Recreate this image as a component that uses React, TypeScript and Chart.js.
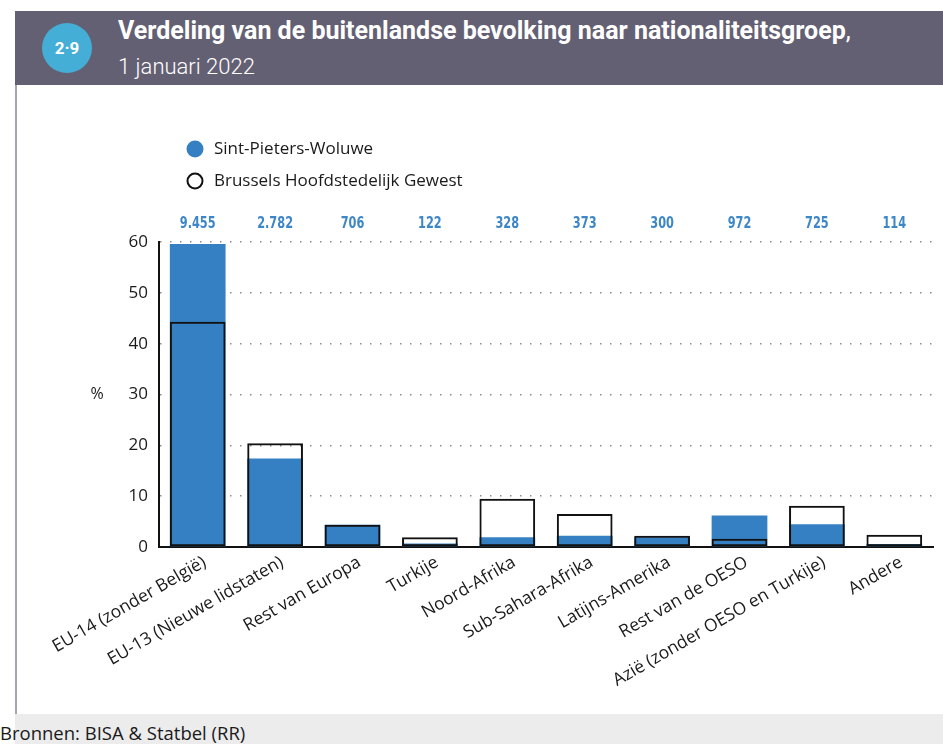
import React, { useEffect, useRef } from "react";
import Chart from "chart.js/auto";

const categories = [
  "EU-14 (zonder België)",
  "EU-13 (Nieuwe lidstaten)",
  "Rest van Europa",
  "Turkije",
  "Noord-Afrika",
  "Sub-Sahara-Afrika",
  "Latijns-Amerika",
  "Rest van de OESO",
  "Azië (zonder OESO en Turkije)",
  "Andere",
];
const counts = ["9.455", "2.782", "706", "122", "328", "373", "300", "972", "725", "114"];
const sintPietersWoluwe = [59.6, 17.4, 4.4, 0.7, 1.9, 2.2, 1.9, 6.2, 4.5, 0.6];
const brusselsGewest = [44.3, 20.4, 4.4, 1.9, 9.5, 6.5, 2.2, 1.6, 8.1, 2.4];
const yTicks = [0, 10, 20, 30, 40, 50, 60];

const BLUE = "#3480c3";
const FONT = "'Open Sans', 'Noto Sans', sans-serif";

export default function App() {
  const ref = useRef<HTMLCanvasElement | null>(null);

  useEffect(() => {
    document.body.style.margin = "0";
    const canvas = ref.current;
    if (!canvas) return;

    const overlay = {
      id: "overlay",
      afterDatasetsDraw(chart: any) {
        const ctx = chart.ctx;
        const area = chart.chartArea;
        const xs = chart.scales.x;
        ctx.save();
        // counts above bars
        ctx.fillStyle = "#3d87c9";
        ctx.font = "bold 15px 'DejaVu Sans Condensed', 'DejaVu Sans', sans-serif";
        ctx.textAlign = "center";
        ctx.textBaseline = "middle";
        counts.forEach((c, i) => {
          ctx.save();
          ctx.translate(xs.getPixelForValue(i), area.top - 18);
          ctx.scale(0.84, 1);
          ctx.fillText(c, 0, 0);
          ctx.restore();
        });
        // % title
        ctx.fillStyle = "#1a1a1a";
        ctx.font = `16px ${FONT}`;
        ctx.fillText("%", 97, (area.top + area.bottom) / 2);
        // legend
        const ds = chart.data.datasets;
        const lx = 195;
        const ly = [63, 95];
        ctx.beginPath();
        ctx.arc(lx, ly[0], 8.5, 0, Math.PI * 2);
        ctx.fillStyle = BLUE;
        ctx.fill();
        ctx.beginPath();
        ctx.arc(lx, ly[1], 7.5, 0, Math.PI * 2);
        ctx.fillStyle = "#fff";
        ctx.fill();
        ctx.lineWidth = 2;
        ctx.strokeStyle = "#111";
        ctx.stroke();
        ctx.fillStyle = "#1a1a1a";
        ctx.font = `17px ${FONT}`;
        ctx.textAlign = "left";
        ctx.fillText(ds[0].label, 214, ly[0]);
        ctx.fillText(ds[1].label, 214, ly[1]);
        ctx.restore();
      },
    };

    const chart = new Chart(canvas, {
      type: "bar",
      data: {
        labels: categories,
        datasets: [
          {
            label: "Sint-Pieters-Woluwe",
            data: sintPietersWoluwe,
            backgroundColor: BLUE,
            borderWidth: 0,
            order: 2,
          },
          {
            label: "Brussels Hoofdstedelijk Gewest",
            data: brusselsGewest,
            backgroundColor: "rgba(0,0,0,0)",
            borderColor: "#111",
            borderWidth: 2,
            borderSkipped: false,
            order: 1,
          },
        ],
      },
      options: {
        responsive: false,
        animation: false,
        layout: { padding: { top: 156, left: 109, right: 10, bottom: 17 } },
        datasets: { bar: { categoryPercentage: 1, barPercentage: 0.72 } },
        plugins: { legend: { display: false }, tooltip: { enabled: false } },
        scales: {
          x: {
            stacked: true,
            grid: { display: false, drawTicks: false },
            border: { display: true, color: "#111", width: 2 },
            ticks: {
              autoSkip: false,
              minRotation: 30,
              maxRotation: 30,
              padding: 5,
              labelOffset: 7,
              color: "#1a1a1a",
              font: { family: FONT, size: 17.5 },
            },
            afterFit(scale: any) {
              scale.height = 150;
            },
          },
          y: {
            stacked: false,
            min: 0,
            max: 60,
            afterBuildTicks(scale: any) {
              scale.ticks = yTicks.map((v) => ({ value: v }));
            },
            grid: { color: "#8c8c8c", lineWidth: 1.5, drawTicks: false },
            border: { display: true, color: "#111", width: 2, dash: [1.5, 8.5] },
            ticks: {
              padding: 11,
              color: "#1a1a1a",
              font: { family: FONT, size: 17 },
            },
            afterFit(scale: any) {
              scale.width = 50;
            },
          },
        },
      },
      plugins: [overlay],
    });
    return () => chart.destroy();
  }, []);

  return (
    <div style={{ position: "absolute", left: 0, top: 0, width: 943, height: 744, background: "#fff", overflow: "hidden" }}>
      <div style={{ position: "absolute", left: 15, top: 11, width: 928, height: 74, background: "#646074" }} />
      <div style={{ position: "absolute", left: 15, top: 85, width: 2, height: 629, background: "#a7a4b0" }} />
      <div
        style={{
          position: "absolute",
          left: 42,
          top: 23,
          width: 50,
          height: 50,
          borderRadius: "50%",
          background: "#44aed6",
          color: "#fff",
          fontFamily: "Roboto, sans-serif",
          fontWeight: 700,
          fontSize: 17,
          lineHeight: "50px",
          textAlign: "center",
        }}
      >
        2·9
      </div>
      <div
        style={{
          position: "absolute",
          left: 118,
          top: 15,
          color: "#fff",
          fontFamily: "Roboto, sans-serif",
          fontWeight: 700,
          fontSize: 25,
          lineHeight: "32px",
          whiteSpace: "nowrap",
        }}
      >
        Verdeling van de buitenlandse bevolking naar nationaliteitsgroep<span style={{ fontWeight: 400 }}>,</span>
      </div>
      <div
        style={{
          position: "absolute",
          left: 118,
          top: 53,
          color: "#fff",
          fontFamily: "Roboto, sans-serif",
          fontWeight: 300,
          fontSize: 22,
          lineHeight: "28px",
          whiteSpace: "nowrap",
        }}
      >
        1 januari 2022
      </div>
      <canvas ref={ref} width={943} height={628} style={{ position: "absolute", left: 0, top: 86, width: 943, height: 628 }} />
      <div style={{ position: "absolute", left: 15, top: 714, width: 928, height: 30, background: "#ececec" }} />
      <div
        style={{
          position: "absolute",
          left: 0,
          top: 722,
          color: "#1a1a1a",
          fontFamily: FONT,
          fontSize: 18.5,
          lineHeight: "22px",
          whiteSpace: "nowrap",
        }}
      >
        Bronnen: BISA &amp; Statbel (RR)
      </div>
    </div>
  );
}
